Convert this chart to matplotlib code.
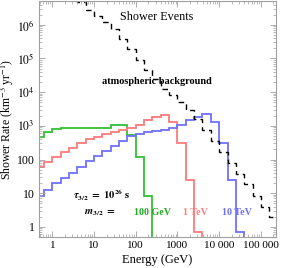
import numpy as np
import matplotlib
matplotlib.use("Agg")
import matplotlib.pyplot as plt
from matplotlib.ticker import LogLocator, FixedLocator, NullFormatter

plt.rcParams['font.family'] = ['Liberation Serif', 'DejaVu Serif']
plt.rcParams['mathtext.fontset'] = 'stix'

# Energy bin edges (GeV), 5 bins per decade
edges = [0.398, 0.631, 1.0, 1.585, 2.512, 3.981, 6.310, 10.0, 15.85, 25.12,
         39.81, 63.10, 100.0, 158.5, 251.2, 398.1, 631.0, 1000.0, 1585.0, 2512.0,
         3981.0, 6310.0, 10000.0, 15850.0, 25120.0, 39810.0, 63100.0, 100000.0,
         158500.0, 251200.0]

# Shower rates per bin (km^-3 yr^-1); series start at the first edge
rate_100GeV = [480, 670, 810, 850, 870, 890, 890, 850, 850, 1060, 1060, 540,
               122, 8.3, 0.001]
rate_1TeV = [62, 87, 122, 171, 225, 303, 400, 480, 565, 645, 760, 890, 1060,
             1450, 1850, 2150, 1300, 310, 25, 0.7, 0.001]
rate_10TeV = [8.3, 12.5, 20, 28.5, 41, 62, 88, 128, 177, 248, 345, 490, 565,
              660, 700, 760, 870, 1060, 1500, 1830, 2240, 1300, 310, 25, 0.71,
              0.001]
# atmospheric background starts at edge index 4 (2.512 GeV)
bg_start = 4
rate_bg = [8.0e6, 4.7e6, 2.75e6, 1.82e6, 1.21e6, 7.5e5, 3.8e5, 1.9e5, 9.0e4,
           4.6e4, 2.5e4, 1.24e4, 8.3e3, 5.1e3, 3.0e3, 1.6e3, 760, 355, 168,
           79, 37, 19, 8.3, 3.9, 2.0]

x_ticks = [1, 10, 100, 1000, 10000, 100000]
x_ticklabels = ['1', '10', '100', '1000', '10 000', '100 000']
y_ticks = [1, 10, 100, 1e3, 1e4, 1e5, 1e6]
y_ticklabels = ['1', '10', '100', r'$10^{3}$', r'$10^{4}$', r'$10^{5}$', r'$10^{6}$']

c_green = '#33c033'
c_red = '#ff7a7a'
c_blue = '#7070ff'

fig = plt.figure(figsize=(2.83, 2.68), dpi=100)
ax = fig.add_axes([39/283, 1-237/268, 237/283, 236/268])
ax.set_xscale('log')
ax.set_yscale('log')

e = np.array(edges)
ax.stairs(rate_100GeV, e[:len(rate_100GeV)+1], baseline=None, color=c_green, lw=1.3)
ax.stairs(rate_1TeV, e[:len(rate_1TeV)+1], baseline=None, color=c_red, lw=1.3)
ax.stairs(rate_10TeV, e[:len(rate_10TeV)+1], baseline=None, color=c_blue, lw=1.3)
ax.stairs(rate_bg, e[bg_start:bg_start+len(rate_bg)+1], baseline=None, color='black',
          lw=1.0, linestyle=(0, (4, 3)))

ax.set_xlim(0.48, 2.3e5)
ax.set_ylim(0.5, 5.1e6)

ax.xaxis.set_major_locator(FixedLocator(x_ticks))
ax.set_xticklabels(x_ticklabels)
ax.xaxis.set_minor_locator(LogLocator(base=10, subs=np.arange(2, 10)))
ax.xaxis.set_minor_formatter(NullFormatter())
ax.yaxis.set_major_locator(FixedLocator(y_ticks))
ax.set_yticklabels(y_ticklabels)
ax.yaxis.set_minor_locator(LogLocator(base=10, subs=np.arange(2, 10)))
ax.yaxis.set_minor_formatter(NullFormatter())

frame_c = '#a0a0a0'
for s in ax.spines.values():
    s.set_color(frame_c)
    s.set_linewidth(0.8)
ax.tick_params(which='both', direction='in', top=True, right=True, color=frame_c,
               pad=3)
ax.tick_params(axis='x', labelsize=8)
ax.tick_params(axis='y', labelsize=8.5)
ax.tick_params(which='major', length=4, width=0.6)
ax.tick_params(which='minor', length=2, width=0.5)

ax.set_xlabel('Energy (GeV)', fontsize=9, labelpad=3)
ax.set_ylabel(r'Shower Rate (km$^{-3}$ yr$^{-1}$)', fontsize=8.5)
ax.yaxis.set_label_coords(-0.097, 0.5)

ax.text(0.498, 0.932, 'Shower Events', transform=ax.transAxes, fontsize=8.7,
        ha='center', va='center')
ax.text(0.498, 0.657, 'atmospheric background', transform=ax.transAxes, fontsize=7.4,
        fontweight='bold', ha='center', va='center')
ax.text(0.266, 0.178, r'$\boldsymbol{\tau}_{\mathbf{3/2}}\ \mathbf{=\ 10^{26}\ s}$',
        transform=ax.transAxes, fontsize=7.6, ha='center', va='center')
ax.text(0.257, 0.102, r'$\boldsymbol{m}_{\mathbf{3/2}}\ \mathbf{=}$',
        transform=ax.transAxes, fontsize=7.6, ha='center', va='center')
ax.text(0.481, 0.102, '100 GeV', transform=ax.transAxes, fontsize=7.2,
        fontweight='bold', color='#22aa22', ha='center', va='center')
ax.text(0.66, 0.102, '1 TeV', transform=ax.transAxes, fontsize=7.2,
        fontweight='bold', color=c_red, ha='center', va='center')
ax.text(0.835, 0.102, '10 TeV', transform=ax.transAxes, fontsize=7.2,
        fontweight='bold', color=c_blue, ha='center', va='center')

fig.savefig('out.png', dpi=100)
